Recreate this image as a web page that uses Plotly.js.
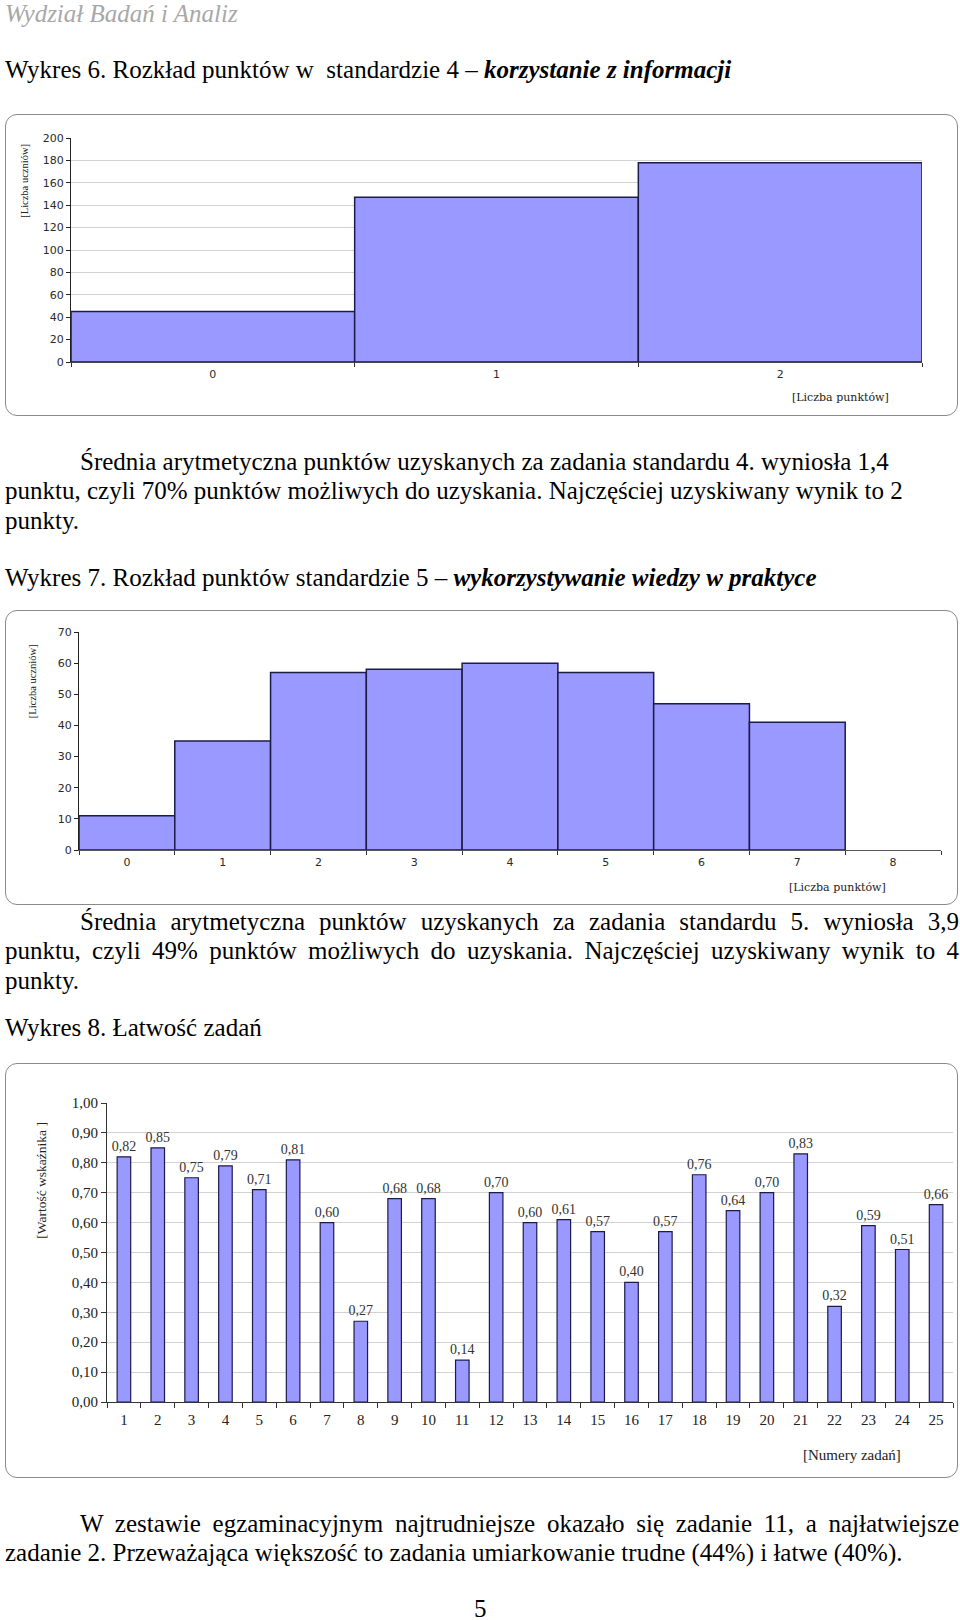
<!DOCTYPE html>
<html><head><meta charset="utf-8">
<script src="https://cdn.plot.ly/plotly-3.0.1.min.js"></script>
<style>
body{margin:0;width:960px;height:1620px;position:relative;background:#fff;font-family:"Liberation Serif","Times New Roman",serif;color:#000;overflow:hidden}
.t{position:absolute;left:5px;font-size:25px;line-height:30px;white-space:nowrap}
.j{position:absolute;font-size:25px;line-height:30px;text-align:justify;text-align-last:justify;white-space:normal}
.box{position:absolute;left:5px;width:953px;box-sizing:border-box;border:1px solid #8a8a8a;border-radius:12px;pointer-events:none}
.chart{position:absolute;left:5px}
</style></head><body>
<div class="t" style="top:1px;line-height:26px;font-size:25px;font-style:italic;color:#a8a8a8;">Wydział Badań i Analiz</div>
<div class="t" style="top:55px;">Wykres 6. Rozkład punktów w&nbsp; standardzie 4 – <b><i>korzystanie z informacji</i></b></div>

<div id="c1" class="chart" style="top:114px;"></div>
<div class="box" style="top:114px;height:302px;"></div>

<div class="t" style="top:447px;left:80px;">Średnia arytmetyczna punktów uzyskanych za zadania standardu 4. wyniosła 1,4</div>
<div class="t" style="top:476px;">punktu, czyli 70% punktów możliwych do uzyskania. Najczęściej uzyskiwany wynik to 2</div>
<div class="t" style="top:506px;">punkty.</div>
<div class="t" style="top:563px;">Wykres 7. Rozkład punktów standardzie 5 – <b><i>wykorzystywanie wiedzy w praktyce</i></b></div>

<div id="c2" class="chart" style="top:610px;"></div>
<div class="box" style="top:610px;height:295px;"></div>

<div class="j" style="top:907px;left:80px;width:879px;">Średnia arytmetyczna punktów uzyskanych za zadania standardu 5. wyniosła 3,9</div>
<div class="j" style="top:936px;left:5px;width:954px;">punktu, czyli 49% punktów możliwych do uzyskania. Najczęściej uzyskiwany wynik to 4</div>
<div class="t" style="top:966px;">punkty.</div>
<div class="t" style="top:1013px;">Wykres 8. Łatwość zadań</div>

<div id="c3" class="chart" style="top:1063px;"></div>
<div class="box" style="top:1063px;height:415px;"></div>

<div class="j" style="top:1509px;left:80px;width:879px;">W zestawie egzaminacyjnym najtrudniejsze okazało się zadanie 11, a najłatwiejsze</div>
<div class="t" style="top:1538px;">zadanie 2. Przeważająca większość to zadania umiarkowanie trudne (44%) i łatwe (40%).</div>
<div class="t" style="top:1594px;left:474px;">5</div>

<script>
// Wykres 6 – rozkład punktów, standard 4
const c1Points = ['0', '1', '2'];
const c1Students = [45, 147, 178];
// Wykres 7 – rozkład punktów, standard 5
const c2Points = ['0', '1', '2', '3', '4', '5', '6', '7', '8'];
const c2Students = [11, 35, 57, 58, 60, 57, 47, 41, 0];
// Wykres 8 – łatwość zadań
const c3Tasks = ['1','2','3','4','5','6','7','8','9','10','11','12','13','14','15','16','17','18','19','20','21','22','23','24','25'];
const c3Ease = [0.82, 0.85, 0.75, 0.79, 0.71, 0.81, 0.60, 0.27, 0.68, 0.68, 0.14, 0.70, 0.60, 0.61, 0.57, 0.40, 0.57, 0.76, 0.64, 0.70, 0.83, 0.32, 0.59, 0.51, 0.66];

const BAR = '#9999ff';
const EDGE = '#1c1c4a';
const cfg = {staticPlot: true, displayModeBar: false};
const smallFont = {family: 'DejaVu Sans, Verdana, sans-serif', size: 11, color: '#2a2a2a'};
const serifFont = {family: 'Liberation Serif, Times New Roman, serif', size: 15, color: '#222'};

function rotTitle(text, xshift, ypaper, font) {
  return {text: text, xref: 'paper', yref: 'paper', x: 0, y: ypaper, xshift: xshift,
          textangle: -90, showarrow: false, font: font, xanchor: 'center', yanchor: 'middle'};
}
function xTitle(text, xpaper, yshift, font) {
  return {text: text, xref: 'paper', yref: 'paper', x: xpaper, y: 0, yshift: yshift,
          showarrow: false, font: font, xanchor: 'center', yanchor: 'middle'};
}

// Chart 1
Plotly.newPlot('c1', [{
  type: 'bar', x: c1Points, y: c1Students, hoverinfo: 'skip',
  marker: {color: BAR, line: {color: EDGE, width: 1.5}}
}], {
  width: 953, height: 302, margin: {l: 66, r: 36, t: 24, b: 54},
  paper_bgcolor: 'rgba(0,0,0,0)', plot_bgcolor: '#fff', bargap: 0, showlegend: false,
  font: smallFont,
  xaxis: {type: 'category', tickson: 'boundaries', ticks: 'outside', ticklen: 4, tickcolor: '#333',
          showline: true, linecolor: '#444', linewidth: 1, showgrid: false, zeroline: false, ticklabelstandoff: 2},
  yaxis: {range: [0, 200], tick0: 0, dtick: 20, ticks: 'outside', ticklen: 4, tickcolor: '#222',
          showline: true, linecolor: '#222', linewidth: 1, showgrid: true, gridcolor: '#d2d2d2', zeroline: false},
  annotations: [
    rotTitle('[Liczba uczniów]', -46, 0.809, {family: 'Liberation Serif, serif', size: 10.5, color: '#222'}),
    xTitle('[Liczba punktów]', 0.904, -35, {family: 'DejaVu Serif, serif', size: 11, color: '#222'})
  ]
}, cfg);

// Chart 2
Plotly.newPlot('c2', [{
  type: 'bar', x: c2Points, y: c2Students, hoverinfo: 'skip',
  marker: {color: BAR, line: {color: EDGE, width: c2Students.map(v => v > 0 ? 1.5 : 0)}}
}], {
  width: 953, height: 295, margin: {l: 74, r: 17, t: 22, b: 55},
  paper_bgcolor: 'rgba(0,0,0,0)', plot_bgcolor: 'rgba(0,0,0,0)', bargap: 0, showlegend: false,
  font: smallFont,
  xaxis: {type: 'category', tickson: 'boundaries', ticks: 'outside', ticklen: 4, tickcolor: '#333',
          showline: true, linecolor: '#555', linewidth: 1, showgrid: false, zeroline: false, ticklabelstandoff: 2},
  yaxis: {range: [0, 70], tick0: 0, dtick: 10, ticks: 'outside', ticklen: 4, tickcolor: '#222',
          showline: true, linecolor: '#222', linewidth: 1, showgrid: false, zeroline: false},
  yaxis2: {overlaying: 'y', range: [0, 70], tickvals: [10, 20, 30, 40, 50, 60], showticklabels: false,
           ticks: '', showgrid: true, gridcolor: '#d2d2d2', zeroline: false, showline: false, layer: 'below traces'},
  annotations: [
    rotTitle('[Liczba uczniów]', -47, 0.774, {family: 'Liberation Serif, serif', size: 10.5, color: '#222'}),
    xTitle('[Liczba punktów]', 0.880, -37, {family: 'DejaVu Serif, serif', size: 11, color: '#222'})
  ]
}, cfg);

// Chart 3
Plotly.newPlot('c3', [{
  type: 'bar', x: c3Tasks, y: c3Ease, hoverinfo: 'skip',
  marker: {color: BAR, line: {color: EDGE, width: 1.2}},
  texttemplate: '%{y:.2f}', textposition: 'outside', cliponaxis: false, constraintext: 'none',
  textfont: {family: 'Liberation Serif, Times New Roman, serif', size: 14, color: '#333'}
}], {
  width: 953, height: 415, margin: {l: 102, r: 5, t: 40, b: 76},
  paper_bgcolor: 'rgba(0,0,0,0)', plot_bgcolor: '#fff', bargap: 0.6, showlegend: false,
  separators: ', ', font: serifFont,
  xaxis: {type: 'category', tickson: 'boundaries', ticks: 'outside', ticklen: 5, tickcolor: '#333',
          showline: true, linecolor: '#333', linewidth: 1, showgrid: false, zeroline: false, ticklabelstandoff: 4},
  yaxis: {range: [0, 1], tick0: 0, dtick: 0.1, tickformat: '.2f', ticks: 'outside', ticklen: 5, tickcolor: '#333',
          showline: true, linecolor: '#333', linewidth: 1, showgrid: true, gridcolor: '#d2d2d2', zeroline: false},
  annotations: [
    rotTitle('[Wartość wskaźnika ]', -65, 0.74, {family: 'Liberation Serif, serif', size: 13.5, color: '#222'}),
    xTitle('[Numery zadań]', 0.881, -53, {family: 'Liberation Serif, serif', size: 15, color: '#222'})
  ]
}, cfg);
</script>
</body></html>
